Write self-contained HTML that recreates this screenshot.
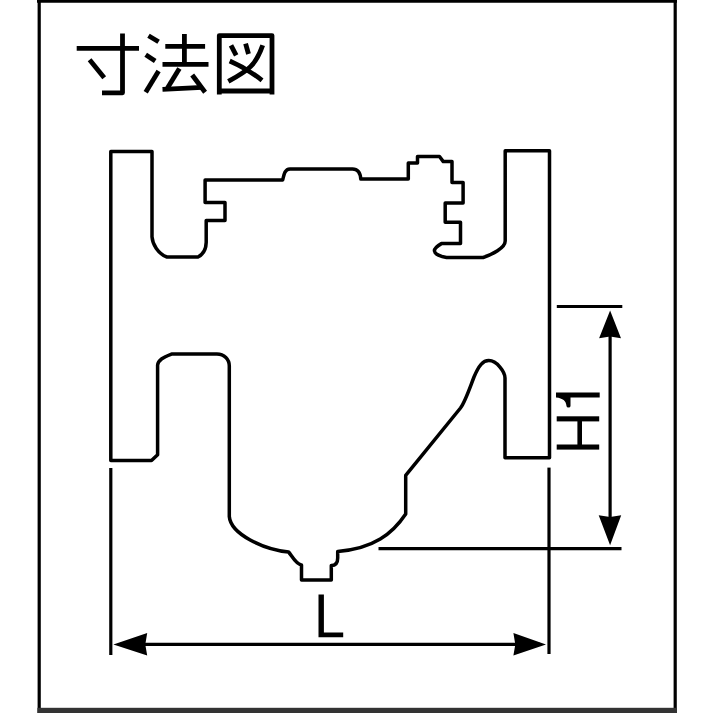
<!DOCTYPE html>
<html>
<head>
<meta charset="utf-8">
<style>
html,body{margin:0;padding:0;background:#fff;}
body{width:713px;height:713px;overflow:hidden;position:relative;font-family:"Liberation Sans",sans-serif;}
svg{position:absolute;left:0;top:0;display:block;}
</style>
</head>
<body>
<svg width="713" height="713" viewBox="0 0 713 713">
<!-- frame -->
<g stroke="#000" stroke-width="3.2" fill="none">
  <path d="M39.2 -2 V715"/>
  <path d="M675.2 -2 V715"/>
  <path d="M37 1.2 H677"/>
</g>
<rect x="37.4" y="707.8" width="639.6" height="6" fill="#333"/>

<!-- title 寸法図 -->
<g fill="none" stroke="#000" stroke-width="4.8" stroke-linecap="butt" stroke-linejoin="round">
  <!-- 寸 -->
  <path d="M76.7 48.3 H139"/>
  <path d="M122.5 33.4 V92.8 H102"/>
  <path d="M89.6 59.7 L104.2 77.7"/>
  <!-- 法 -->
  <path d="M148.5 35.7 L158.6 41.8"/>
  <path d="M145.7 54.7 L155.2 60.9"/>
  <path d="M145.7 92.3 L158.6 71"/>
  <path d="M165.3 46.3 H205.1"/>
  <path d="M184.4 34 V64.3"/>
  <path d="M162.5 64.3 H208.5"/>
  <path d="M179.4 68.4 L167.5 88"/>
  <path d="M162.5 89.3 L202.3 87.3"/>
  <path d="M192.2 75 L205.1 92.3"/>
  <!-- 図 -->
  <path d="M219.3 94.4 V35.6 H272 V94.4"/>
  <path d="M219.3 91 H272"/>
  <path d="M231 45.3 L236.2 55.4"/>
  <path d="M245.6 43.6 L248.5 54"/>
  <path d="M262.7 45.3 C255.9 65 248.5 70.5 228.3 81.4"/>
  <path d="M229.7 61 Q247 68.5 262 80.3"/>
</g>

<!-- valve outline -->
<path fill="none" stroke="#000" stroke-width="3.5" stroke-linejoin="round" d="
M110.8 151.6 H152 V236.8 C152.5 244 158 254 167 257 H198 C202 255 206 250 206.2 242.4 V220.4 H225 V202.6 H205.1 V180 H282.7
C284 174 285 169 290 168.9 H352.5 Q360 168.9 360.8 179 H408.3 V163 H417.5 V156.5 H439.5 L443.3 161.6 H452 V182.6 H463.1 V203 H445.2 V222.3 H460.5 V243.6 H441.4
C438 245.5 434.3 248 434.4 251 C434.6 254 441 256.8 446.5 257.5 H483.1 C492 254.5 505.2 248 505.2 241 V150.8 H549.5 V457.8 H505 V378
C505 372 497 360.6 488.8 360.6 C483 360.6 479 365 474 377 C469 390 465 402 460.5 408 L405.7 475.4 V514
C392.7 533.5 373.5 548.8 337.7 551.4 V558 Q337.7 565.5 331.3 565.6 V580 H301.5 V565
C296 564.5 292 556 288.6 552 C263.7 549.4 230.8 534.3 229.3 516.5 V366.5 C229.5 359 224 354.1 216.9 354.1 H171.5 C163 357.5 158 360 157.6 365.2 V454.7 L151.5 460.6 H110.8 Z"/>

<!-- dimension lines -->
<g stroke="#000" stroke-width="3.2" fill="none">
  <path d="M110.8 468 V655"/>
  <path d="M549 467.6 V654"/>
  <path d="M120 644.4 H540"/>
  <path d="M556.8 306.5 H622.3"/>
  <path d="M378.5 548.7 H621.5"/>
  <path d="M610.1 320 V535"/>
</g>
<g fill="#000">
  <path d="M113.4 644.4 L147.2 632.9 L145.3 644.4 L147.2 655.4 Z"/>
  <path d="M546 644.4 L513.4 632.9 L515.3 644.4 L513.4 655.4 Z"/>
  <path d="M610.1 310.5 L599.1 338.2 L610.1 336.5 L621 338.2 Z"/>
  <path d="M610.1 545.2 L598.7 515.2 L610.1 517 L621.2 515.2 Z"/>
</g>

<!-- labels -->
<g fill="#000">
  <!-- L -->
  <path d="M318.5 594.6 H323.9 V632.6 H343.2 V637.2 H318.5 Z"/>
  <!-- H (rotated) -->
  <rect x="556.7" y="416.3" width="42.5" height="5.1"/>
  <rect x="556.7" y="444.5" width="42.5" height="5.1"/>
  <rect x="577.4" y="418" width="4.6" height="29"/>
  <!-- 1 (rotated) -->
  <path d="M556 392.5 H599.7 V397.6 H570.5 V406 Q570.5 407.5 568.5 407.5 Q566.5 407.5 566.5 406 C566 401 563 398.3 556 397.6 Z"/>
</g>
</svg>
</body>
</html>
